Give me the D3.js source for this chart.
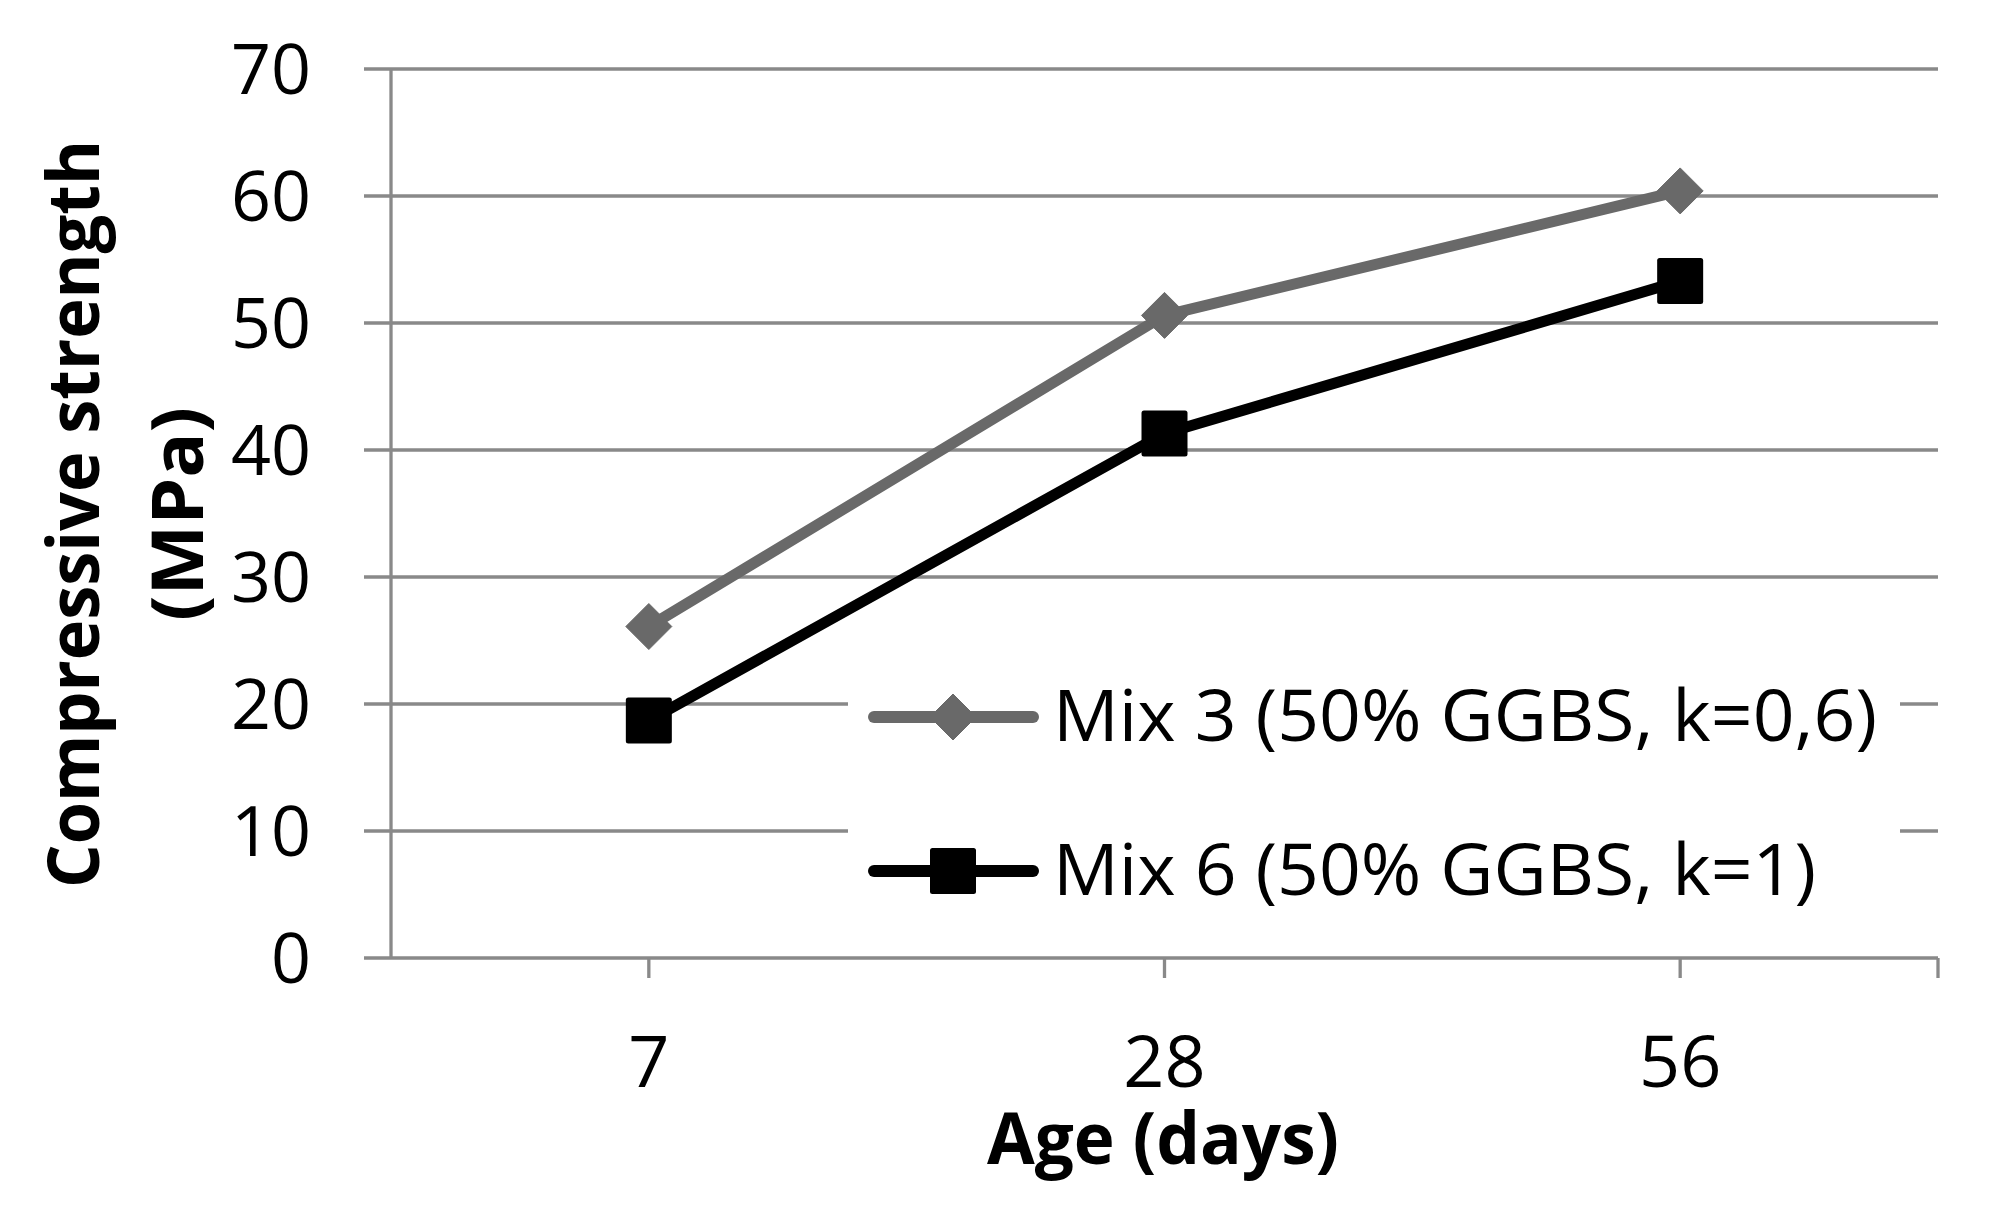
<!DOCTYPE html>
<html><head><meta charset="utf-8">
<script src="https://cdn.jsdelivr.net/npm/d3@7"></script>
<style>body{margin:0;background:#fff}svg{display:block}text{font-family:"Open Sans",sans-serif}</style>
</head><body>
<script>
const categories = ["7", "28", "56"];
const yTicks = [0, 10, 20, 30, 40, 50, 60, 70];
const mix3 = [26.1, 50.6, 60.4];
const mix6 = [18.7, 41.3, 53.3];
const seriesNames = ["Mix 3 (50% GGBS, k=0,6)", "Mix 6 (50% GGBS, k=1)"];
const xTitle = "Age (days)";
const yTitle = ["Compressive strength", "(MPa)"];

const W = 1989, H = 1218;
const svg = d3.select("body").append("svg").attr("width", W).attr("height", H);
const L = 391, R = 1938, T = 69, B = 958;
const x = d3.scaleBand().domain(categories).range([L, R]).padding(0);
const y = d3.scaleLinear().domain([0, 70]).range([B, T]);
const grid = "#898989";

// gridlines
svg.append("g").selectAll("line").data(yTicks).join("line")
  .attr("x1", L - 27).attr("x2", R).attr("y1", d => y(d)).attr("y2", d => y(d))
  .attr("stroke", grid).attr("stroke-width", 3.3);
// y axis line
svg.append("line").attr("x1", L).attr("x2", L).attr("y1", T).attr("y2", B)
  .attr("stroke", grid).attr("stroke-width", 3.3);
// x ticks
const xt = categories.map(c => x(c) + x.bandwidth() / 2).concat([R]);
svg.append("g").selectAll("line").data(xt).join("line")
  .attr("x1", d => d).attr("x2", d => d).attr("y1", B).attr("y2", B + 20)
  .attr("stroke", grid).attr("stroke-width", 3.3);

// y tick labels
svg.append("g").selectAll("text").data(yTicks).join("text")
  .attr("x", 311).attr("y", d => y(d)).attr("dy", "0.35em")
  .attr("text-anchor", "end").attr("font-size", 70).attr("fill", "#000")
  .text(d => d);
// x tick labels
svg.append("g").selectAll("text").data(categories).join("text")
  .attr("x", d => x(d) + x.bandwidth() / 2).attr("y", 1087)
  .attr("text-anchor", "middle").attr("font-size", 72).attr("fill", "#000")
  .text(d => d);

// axis titles
svg.append("text").attr("x", 1163).attr("y", 1164).attr("text-anchor", "middle")
  .attr("font-size", 71).attr("font-weight", "bold")
  .attr("textLength", 352).attr("lengthAdjust", "spacingAndGlyphs").text(xTitle);
svg.append("text").attr("transform", "translate(99,514) rotate(-90)")
  .attr("text-anchor", "middle").attr("font-size", 71).attr("font-weight", "bold")
  .attr("textLength", 748).attr("lengthAdjust", "spacingAndGlyphs").text(yTitle[0]);
svg.append("text").attr("transform", "translate(203,514) rotate(-90)")
  .attr("text-anchor", "middle").attr("font-size", 71).attr("font-weight", "bold")
  .attr("textLength", 214).attr("lengthAdjust", "spacingAndGlyphs").text(yTitle[1]);

const cx = c => x(c) + x.bandwidth() / 2;
const line = d3.line().x(d => cx(d.c)).y(d => y(d.v));
const series = [
  {name: seriesNames[0], vals: mix3, color: "#696969", marker: "diamond"},
  {name: seriesNames[1], vals: mix6, color: "#000000", marker: "square"}
];
function marker(g, type, color) {
  if (type === "diamond") {
    g.append("path").attr("d", "M0,-23L23,0L0,23L-23,0Z").attr("fill", color)
      .attr("stroke", color).attr("stroke-width", 1).attr("stroke-linejoin", "round");
  } else {
    g.append("rect").attr("x", -23).attr("y", -23).attr("width", 46).attr("height", 46)
      .attr("rx", 2.5).attr("fill", color);
  }
}
series.forEach(s => {
  const pts = categories.map((c, i) => ({c, v: s.vals[i]}));
  svg.append("path").datum(pts).attr("d", line).attr("fill", "none")
    .attr("stroke", s.color).attr("stroke-width", 11).attr("stroke-linejoin", "round");
  pts.forEach(p => {
    const g = svg.append("g").attr("transform", `translate(${cx(p.c)},${y(p.v)})`);
    marker(g, s.marker, s.color);
  });
});

// legend
svg.append("rect").attr("x", 848).attr("y", 660).attr("width", 1052).attr("height", 250).attr("fill", "#fff");
const legY = [717, 871];
series.forEach((s, i) => {
  svg.append("line").attr("x1", 874).attr("x2", 1033).attr("y1", legY[i]).attr("y2", legY[i])
    .attr("stroke", s.color).attr("stroke-width", 12).attr("stroke-linecap", "round");
  const g = svg.append("g").attr("transform", `translate(953,${legY[i]})`);
  marker(g, s.marker, s.color);
  svg.append("text").attr("x", 1053).attr("y", legY[i] + 24)
    .attr("font-size", 72).attr("fill", "#000")
    .attr("textLength", i === 0 ? 824 : 763).attr("lengthAdjust", "spacingAndGlyphs")
    .text(s.name);
});
</script>
</body></html>
